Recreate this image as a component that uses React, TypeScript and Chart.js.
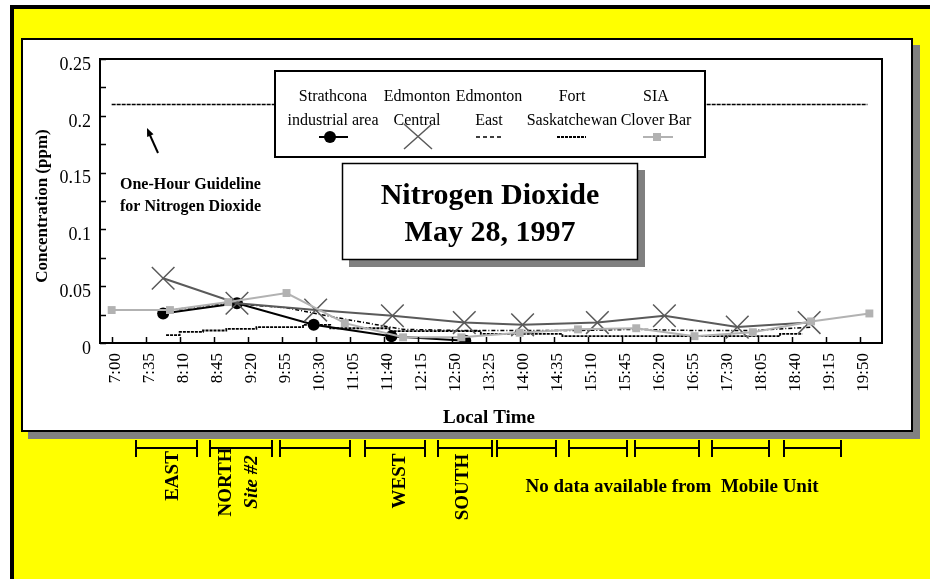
import React, { useEffect, useRef } from 'react';
import { Chart, registerables } from 'chart.js';
Chart.register(...registerables);

// ---- data ----
const timeTickLabels = ['7:00','7:35','8:10','8:45','9:20','9:55','10:30','11:05','11:40','12:15','12:50','13:25','14:00','14:35','15:10','15:45','16:20','16:55','17:30','18:05','18:40','19:15','19:50'];
const yTickValues = [0, 0.05, 0.1, 0.15, 0.2, 0.25];
const yTickLabels = ['0', '0.05', '0.1', '0.15', '0.2', '0.25'];
const yMinorValues = [0.025, 0.075, 0.125, 0.175, 0.225];

const strathconaTimes = ['7:53','9:09','10:28','11:48','13:04'];
const strathconaValues = [0.026, 0.035, 0.016, 0.006, 0.002];

const centralTimes = ['7:53','9:09','10:30','11:49','13:03','14:03','15:20','16:29','17:44','18:58'];
const centralValues = [0.057, 0.035, 0.029, 0.024, 0.018, 0.016, 0.018, 0.024, 0.014, 0.018];

const eastTimes = ['8:00','9:00','10:00','11:00','12:00','13:00','14:00','15:00','16:00','17:00','18:00','19:00'];
const eastValues = [0.029, 0.035, 0.031, 0.021, 0.012, 0.011, 0.011, 0.011, 0.012, 0.011, 0.011, 0.014];

const fortTimes = ['7:56','8:10','8:34','8:58','9:29','10:17','10:45','11:46','13:20','14:44','18:28','18:51'];
const fortValues = [0.007, 0.0098, 0.011, 0.0125, 0.014, 0.016, 0.013, 0.0105, 0.008, 0.006, 0.008, 0.008];

const siaTimes = ['7:00','8:00','9:00','10:00','11:00','12:00','13:00','14:00','15:00','16:00','17:00','18:00','19:00','20:00'];
const siaValues = [0.029, 0.029, 0.036, 0.044, 0.0175, 0.005, 0.005, 0.009, 0.012, 0.013, 0.006, 0.0095, 0.019, 0.026];

const guidelineTimes = ['7:00','19:58'];
const guidelineValues = [0.21, 0.21];

const legendLines = [
  ['Strathcona', 'industrial area'],
  ['Edmonton', 'Central'],
  ['Edmonton', 'East'],
  ['Fort', 'Saskatchewan'],
  ['SIA', 'Clover Bar'],
];

const mobileIntervals = [
  ['7:25','8:28'], ['8:41','9:45'], ['9:53','11:05'], ['11:21','12:23'], ['12:36','13:32'],
  ['13:37','14:37'], ['14:51','15:51'], ['15:59','17:05'], ['17:18','18:17'], ['18:32','19:31'],
];

const toMin = (s: string) => { const [h, m] = s.split(':').map(Number); return h * 60 + m; };
const pts = (t: string[], v: number[]) => t.map((s, i) => ({ x: toMin(s), y: v[i] }));

const SERIF = '"Liberation Serif", "Times New Roman", serif';
const GRAY_DARK = '#5a5a5a';
const GRAY_LIGHT = '#b2b2b2';

function text(ctx: CanvasRenderingContext2D, s: string, x: number, y: number, font: string, align: CanvasTextAlign = 'center', rot = 0) {
  ctx.save();
  ctx.font = font;
  ctx.fillStyle = '#000';
  ctx.textAlign = align;
  ctx.textBaseline = 'middle';
  ctx.translate(x, y);
  if (rot) ctx.rotate(rot);
  ctx.fillText(s, 0, 0);
  ctx.restore();
}

const decorPlugin = {
  id: 'decor',
  beforeDraw(chart: any) {
    const ctx: CanvasRenderingContext2D = chart.ctx;
    ctx.save();
    ctx.fillStyle = '#fff'; ctx.fillRect(0, 0, 930, 579);
    ctx.fillStyle = '#000'; ctx.fillRect(10, 5, 920, 4); ctx.fillRect(10, 5, 4, 574);
    ctx.fillStyle = '#ffff00'; ctx.fillRect(14, 9, 916, 570);
    ctx.fillStyle = '#808080'; ctx.fillRect(28, 45, 892, 394);
    ctx.fillStyle = '#fff'; ctx.fillRect(21, 38, 892, 394);
    ctx.strokeStyle = '#000'; ctx.lineWidth = 2; ctx.strokeRect(22, 39, 890, 392);
    ctx.restore();
  },
  afterDraw(chart: any) {
    const ctx: CanvasRenderingContext2D = chart.ctx;
    const { left, right, top, bottom } = chart.chartArea;
    const xs = chart.scales.x, ys = chart.scales.y;
    ctx.save();
    // plot frame
    ctx.strokeStyle = '#000'; ctx.lineWidth = 2;
    ctx.strokeRect(left, top, right - left, bottom - top);
    // y ticks
    ctx.lineWidth = 1.5;
    [...yTickValues, ...yMinorValues].forEach(v => {
      const py = Math.round(ys.getPixelForValue(v)) + 0.5;
      ctx.beginPath(); ctx.moveTo(left, py); ctx.lineTo(left + 6, py); ctx.stroke();
    });
    yTickValues.forEach((v, i) => {
      text(ctx, yTickLabels[i], 91, ys.getPixelForValue(v) + 6, `18px ${SERIF}`, 'right');
    });
    // x ticks
    timeTickLabels.forEach(l => {
      const px = Math.round(xs.getPixelForValue(toMin(l))) + 0.5;
      ctx.beginPath(); ctx.moveTo(px, bottom); ctx.lineTo(px, bottom - 6); ctx.stroke();
      text(ctx, l, px + 3, 353, `17px ${SERIF}`, 'right', -Math.PI / 2);
    });
    // axis titles
    text(ctx, 'Concentration (ppm)', 43, 206, `bold 17px ${SERIF}`, 'center', -Math.PI / 2);
    text(ctx, 'Local Time', 489, 418, `bold 19px ${SERIF}`, 'center');

    // guideline annotation
    text(ctx, 'One-Hour Guideline', 120, 185, `bold 16px ${SERIF}`, 'left');
    text(ctx, 'for Nitrogen Dioxide', 120, 207, `bold 16px ${SERIF}`, 'left');
    ctx.strokeStyle = '#000'; ctx.lineWidth = 2;
    ctx.beginPath(); ctx.moveTo(158, 153); ctx.lineTo(149, 133); ctx.stroke();
    {
      const ang = Math.atan2(128 - 153, 147 - 158);
      ctx.fillStyle = '#000';
      ctx.beginPath();
      ctx.moveTo(147, 128);
      ctx.lineTo(147 - 9 * Math.cos(ang - 0.4), 128 - 9 * Math.sin(ang - 0.4));
      ctx.lineTo(147 - 9 * Math.cos(ang + 0.4), 128 - 9 * Math.sin(ang + 0.4));
      ctx.closePath(); ctx.fill();
    }

    // legend box
    ctx.fillStyle = '#fff'; ctx.fillRect(275, 71, 430, 86);
    ctx.strokeStyle = '#000'; ctx.lineWidth = 2; ctx.strokeRect(275, 71, 430, 86);
    const cols = [333, 417, 489, 572, 656];
    legendLines.forEach((ln, i) => {
      text(ctx, ln[0], cols[i], 97, `16px ${SERIF}`, 'center');
      text(ctx, ln[1], cols[i], 121, `16px ${SERIF}`, 'center');
    });
    const sy = 137;
    // strathcona
    ctx.strokeStyle = '#000'; ctx.lineWidth = 2;
    ctx.beginPath(); ctx.moveTo(319, sy); ctx.lineTo(348, sy); ctx.stroke();
    ctx.fillStyle = '#000'; ctx.beginPath(); ctx.arc(330, sy, 6, 0, Math.PI * 2); ctx.fill();
    // central
    ctx.strokeStyle = GRAY_DARK; ctx.lineWidth = 1.5;
    ctx.beginPath(); ctx.moveTo(404, 124); ctx.lineTo(432, 149); ctx.moveTo(432, 124); ctx.lineTo(404, 149); ctx.stroke();
    // east
    ctx.strokeStyle = '#000'; ctx.lineWidth = 1.5; ctx.setLineDash([4, 3]);
    ctx.beginPath(); ctx.moveTo(476, sy); ctx.lineTo(502, sy); ctx.stroke();
    // fort
    ctx.lineWidth = 2; ctx.setLineDash([3, 1]);
    ctx.beginPath(); ctx.moveTo(557, sy); ctx.lineTo(586, sy); ctx.stroke();
    ctx.setLineDash([]);
    // sia
    ctx.strokeStyle = GRAY_LIGHT; ctx.lineWidth = 2;
    ctx.beginPath(); ctx.moveTo(643, sy); ctx.lineTo(673, sy); ctx.stroke();
    ctx.fillStyle = GRAY_LIGHT; ctx.fillRect(653, sy - 4, 8, 8);

    // title box
    ctx.fillStyle = '#808080'; ctx.fillRect(349, 170, 296, 97);
    ctx.fillStyle = '#fff'; ctx.fillRect(342, 163, 296, 97);
    ctx.strokeStyle = '#000'; ctx.lineWidth = 1.5; ctx.strokeRect(342.5, 163.5, 295, 96);
    text(ctx, 'Nitrogen Dioxide', 490, 196, `bold 30px ${SERIF}`, 'center');
    text(ctx, 'May 28, 1997', 490, 233, `bold 30px ${SERIF}`, 'center');

    // mobile unit brackets
    ctx.strokeStyle = '#000'; ctx.lineWidth = 2;
    mobileIntervals.forEach(([a, b]) => {
      const x1 = Math.round(xs.getPixelForValue(toMin(a))), x2 = Math.round(xs.getPixelForValue(toMin(b)));
      ctx.beginPath();
      ctx.moveTo(x1, 448); ctx.lineTo(x2, 448);
      ctx.moveTo(x1, 440); ctx.lineTo(x1, 457);
      ctx.moveTo(x2, 440); ctx.lineTo(x2, 457);
      ctx.stroke();
    });
    const R = -Math.PI / 2;
    text(ctx, 'EAST', 173, 476, `bold 19px ${SERIF}`, 'center', R);
    text(ctx, 'NORTH', 226, 482, `bold 19px ${SERIF}`, 'center', R);
    text(ctx, 'Site #2', 252, 482, `italic bold 19px ${SERIF}`, 'center', R);
    text(ctx, 'WEST', 400, 481, `bold 19px ${SERIF}`, 'center', R);
    text(ctx, 'SOUTH', 463, 487, `bold 19px ${SERIF}`, 'center', R);
    text(ctx, 'No data available from  Mobile Unit', 672, 487, `bold 19px ${SERIF}`, 'center');
    ctx.restore();
  },
};

export default function App() {
  const ref = useRef<HTMLCanvasElement>(null);
  useEffect(() => {
    if (!ref.current) return;
    const chart = new Chart(ref.current, {
      type: 'line',
      data: {
        datasets: [
          { label: 'SIA Clover Bar', data: pts(siaTimes, siaValues), borderColor: GRAY_LIGHT, backgroundColor: GRAY_LIGHT, borderWidth: 2, pointStyle: 'rect', pointRadius: 5.6, pointBorderWidth: 0, order: 1 },
          { label: 'Edmonton Central', data: pts(centralTimes, centralValues), borderColor: GRAY_DARK, backgroundColor: GRAY_DARK, borderWidth: 2, pointStyle: 'crossRot', pointRadius: 16, pointBorderWidth: 1.5, order: 2 },
          { label: 'Strathcona industrial area', data: pts(strathconaTimes, strathconaValues), borderColor: '#000', backgroundColor: '#000', borderWidth: 2, pointStyle: 'circle', pointRadius: 6, pointBorderWidth: 0, order: 3 },
          { label: 'Edmonton East', data: pts(eastTimes, eastValues), borderColor: '#000', borderWidth: 1.5, borderDash: [4, 2, 1, 2], pointRadius: 0, order: 4 },
          { label: 'Fort Saskatchewan', data: pts(fortTimes, fortValues), borderColor: '#000', borderWidth: 1.8, borderDash: [3, 1], stepped: true, pointRadius: 0, order: 5 },
          { label: 'Guideline', data: pts(guidelineTimes, guidelineValues), borderColor: '#000', borderWidth: 1.5, borderDash: [4, 1], pointRadius: 0, order: 6 },
        ] as any,
      },
      options: {
        responsive: false,
        animation: false,
        events: [],
        layout: { padding: { left: 100, top: 59, right: 48, bottom: 236 } },
        elements: { line: { tension: 0 } },
        scales: {
          x: { type: 'linear', min: 408, max: 1213, display: false },
          y: { type: 'linear', min: 0, max: 0.25, display: false },
        },
        plugins: { legend: { display: false }, tooltip: { enabled: false }, title: { display: false } },
      },
      plugins: [decorPlugin],
    });
    return () => chart.destroy();
  }, []);
  return (
    <div style={{ position: 'fixed', left: 0, top: 0, width: 930, height: 579 }}>
      <canvas ref={ref} width={930} height={579} style={{ display: 'block' }} />
    </div>
  );
}
